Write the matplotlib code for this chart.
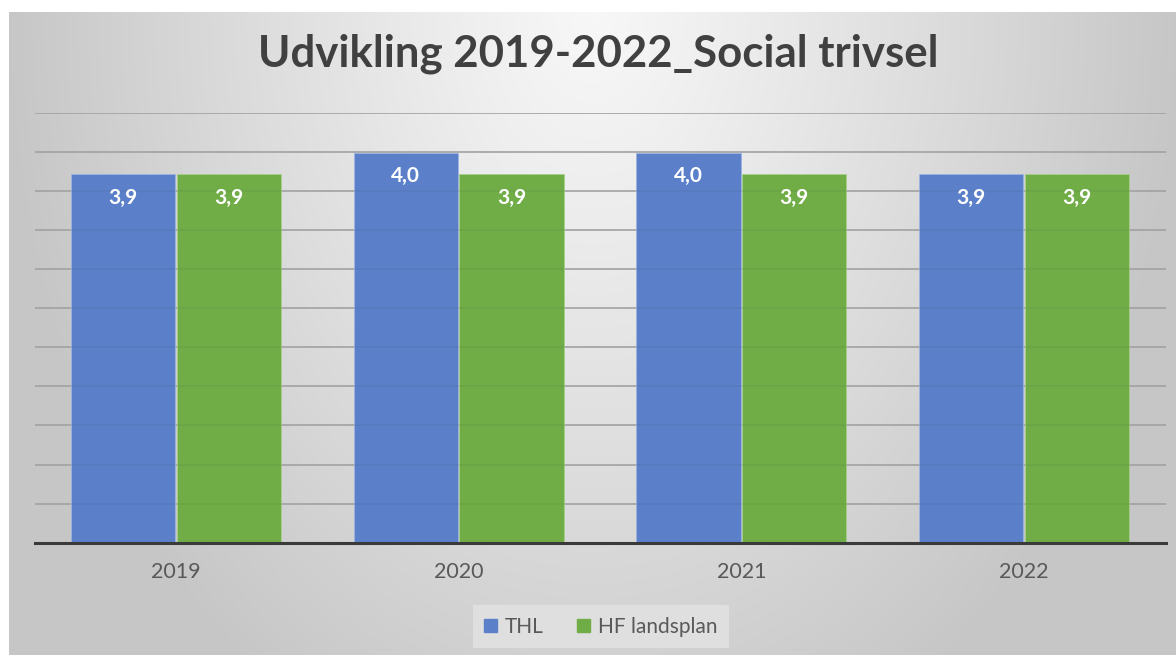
import numpy as np
import matplotlib
matplotlib.use('Agg')
import matplotlib.pyplot as plt
from matplotlib.patches import Patch

# data (bar heights), labels as printed on the bars
years = ['2019', '2020', '2021', '2022']
thl = [3.77, 3.99, 3.99, 3.77]
hf = [3.77, 3.77, 3.77, 3.77]
thl_labels = ['3,9', '4,0', '4,0', '3,9']
hf_labels = ['3,9', '3,9', '3,9', '3,9']
series_names = ['THL', 'HF landsplan']

blue = '#5B80C9'
green = '#70AD47'
plt.rcParams['font.family'] = ['Lato', 'DejaVu Sans']

fig = plt.figure(figsize=(11.76, 6.55), dpi=100)
fig.patch.set_facecolor('white')

# radial grey gradient behind the chart area
bg = fig.add_axes([9 / 1176, 0, 1 - 9 / 1176, 1 - 12 / 655], zorder=-5)
gx, gy = np.meshgrid(np.linspace(-1, 1, 400), np.linspace(0, 1, 220))
r = np.sqrt(gx ** 2 + (gy * 0.8) ** 2)
r = np.clip(r, 0, 1)
shade = 0.97 - (0.97 - 0.78) * r ** 1.1
bg.imshow(np.dstack([shade] * 3), aspect='auto', extent=[0, 1, 0, 1], origin='upper')
bg.axis('off')

ax = fig.add_axes([34.5 / 1176, 1 - 542.7 / 655, (1165.5 - 34.5) / 1176, (542.7 - 112.7) / 655])
ax.set_facecolor('none')

x = np.arange(len(years))
w = 0.368
off = 0.187
b1 = ax.bar(x - off, thl, w, color=blue, edgecolor='#9db4e0', linewidth=0.6, zorder=2)
b2 = ax.bar(x + off, hf, w, color=green, edgecolor='#a6cf8a', linewidth=0.6, zorder=2)

ax.set_ylim(0, 4.4)
ax.set_xlim(-0.5, 3.5)
ax.set_yticks(np.arange(0.4, 4.41, 0.4))
ax.yaxis.grid(True, color='#ababab', linewidth=1.2, zorder=1)
# faint grid showing through the bars
for t in ax.get_yticks():
    ax.axhline(t, color='#303030', alpha=0.07, linewidth=1.2, zorder=3)
ax.tick_params(axis='y', left=False, labelleft=False)
ax.set_xticks(x, years)
ax.tick_params(axis='x', length=0, pad=14, labelsize=15.5, labelcolor='#595959')
for s in ['top', 'right', 'left']:
    ax.spines[s].set_visible(False)
ax.spines['bottom'].set_color('#3a3a3a')
ax.spines['bottom'].set_linewidth(2.2)
ax.spines['bottom'].set_zorder(4)

for bars, labels in [(b1, thl_labels), (b2, hf_labels)]:
    for rect, lab in zip(bars, labels):
        ax.annotate(lab, (rect.get_x() + rect.get_width() / 2, rect.get_height()),
                    xytext=(0, -17), textcoords='offset points', ha='center', va='center',
                    color='white', fontsize=15, fontweight='bold', zorder=5)

fig.text(0.509, 0.918, 'Udvikling 2019-2022_Social trivsel', ha='center', va='center',
         fontsize=31.5, fontweight='bold', color='#404040')

handles = [Patch(color=blue), Patch(color=green)]
leg = fig.legend(handles, series_names, loc='center', bbox_to_anchor=(0.511, 0.043), ncol=2,
                 fontsize=15, frameon=True, fancybox=False, handlelength=0.6, handleheight=0.6,
                 handletextpad=0.4, columnspacing=1.6, borderpad=0.55)
leg.get_frame().set_facecolor('#e3e3e3')
leg.get_frame().set_edgecolor('none')
for t in leg.get_texts():
    t.set_color('#595959')

fig.savefig('out.png', dpi=100)
